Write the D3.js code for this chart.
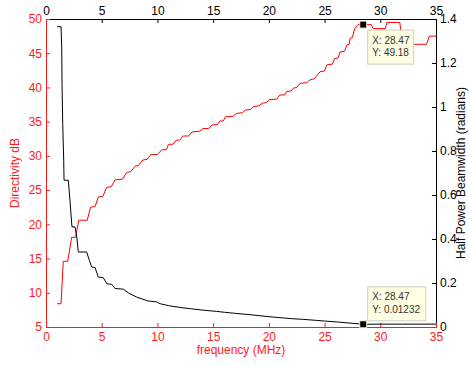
<!DOCTYPE html>
<html>
<head>
<meta charset="utf-8">
<script src="https://cdn.jsdelivr.net/npm/d3@7"></script>
<style>
    body { margin: 0; background: #fff; }
    #chart { width: 469px; height: 366px; }
    text { font-family: "Liberation Sans", Arial, sans-serif; }
</style>
</head>
<body>
<div id="chart"></div>
<script>
// directivity (dB) vs frequency at the step corners
const freqD = [1.0, 1.35, 1.55, 1.95, 2.3, 2.65, 2.95, 3.7, 4.0, 4.4, 4.7, 5.1, 5.45, 5.85, 6.2, 6.85, 7.25, 7.6,
    8.0, 8.3, 8.7, 9.1, 9.4, 10.0, 10.4, 10.8, 11.0, 11.4, 11.7, 12.0, 12.3, 12.8, 13.1, 13.8, 14.1, 14.6,
    14.9, 15.4, 15.6, 15.9, 16.1, 16.8, 17.1, 17.6, 17.9, 18.4, 18.6, 19.1, 19.4, 19.8, 20.0, 20.7, 21.0,
    21.4, 21.6, 22.0, 22.2, 22.5, 22.8, 23.4, 23.7, 24.1, 24.6, 25.0, 25.2, 25.7, 25.9, 26.2, 26.4, 26.8,
    27.0, 27.2, 27.3, 27.5, 27.7, 28.0, 28.47, 29.2, 29.35, 30.45, 30.6, 31.75, 32.0, 34.15, 34.4, 35.0];
const directivity = [8.4, 8.4, 14.6, 14.6, 18.1, 18.1, 20.6, 20.6, 22.5, 22.6, 24.0, 24.1, 25.4, 25.5, 26.5, 26.6, 27.6, 27.7,
    28.5, 28.6, 29.4, 29.5, 30.2, 30.2, 30.9, 30.9, 31.7, 31.7, 32.3, 32.3, 32.9, 32.9, 33.5, 33.6, 34.0, 34.0,
    34.5, 34.6, 35.1, 35.1, 35.7, 35.8, 36.2, 36.3, 36.7, 36.8, 37.2, 37.3, 37.7, 37.8, 38.2, 38.3, 38.9,
    38.9, 39.4, 39.5, 39.9, 40.0, 40.6, 40.7, 41.1, 41.3, 42.3, 42.4, 43.3, 43.4, 44.2, 44.3, 45.2, 45.3,
    46.2, 46.3, 47.2, 47.3, 48.6, 49.2, 49.18, 49.18, 48.6, 48.6, 49.5, 49.5, 46.3, 46.3, 47.5, 47.5];

// half power beamwidth (radians) vs frequency
const freqB = [1.0, 1.35, 1.41, 1.44, 1.5, 1.59, 1.62, 2.0, 2.15, 2.33, 2.6, 2.76, 2.9, 3.65, 3.89, 4.1, 4.4, 4.69,
    5.14, 5.45, 5.9, 6.19, 6.94, 7.39, 8.14, 9.18, 9.94, 10.23, 11.0, 12.3, 13.0, 14.0, 15.3, 16.0, 17.0,
    18.3, 20.0, 21.3, 22.0, 23.0, 24.3, 25.0, 26.1, 27.0, 28.47, 30.0, 32.0, 35.0];
const beamwidth = [1.365, 1.365, 1.274, 1.107, 0.925, 0.758, 0.667, 0.667, 0.576, 0.455, 0.455, 0.41, 0.341, 0.341,
    0.303, 0.273, 0.27, 0.227, 0.224, 0.197, 0.194, 0.175, 0.172, 0.155, 0.136, 0.118, 0.114, 0.106, 0.097,
    0.087, 0.083, 0.077, 0.071, 0.067, 0.062, 0.056, 0.047, 0.041, 0.038, 0.035, 0.030, 0.027, 0.023, 0.019,
    0.01232, 0.013, 0.013, 0.013];

// axis ticks
const freqTicks = [0, 5, 10, 15, 20, 25, 30, 35];
const dirTicks = [5, 10, 15, 20, 25, 30, 35, 40, 45, 50];
const bwTicks = [0, 0.2, 0.4, 0.6, 0.8, 1, 1.2, 1.4];

// data tips
const tipFreq = 28.47;
const tipDir = 49.18;
const tipBw = 0.01232;

class DualAxisVis {
    constructor(parentElement) {
        this.parentElement = parentElement;
        this.initVis();
    }

    initVis() {
        let vis = this;

        vis.red = '#ff1a1a';
        vis.margin = {top: 19, right: 33, bottom: 39, left: 46};
        vis.width = 469 - vis.margin.left - vis.margin.right;
        vis.height = 366 - vis.margin.top - vis.margin.bottom;

        vis.svg = d3.select("#" + vis.parentElement).append("svg")
            .attr("width", 469)
            .attr("height", 366)
            .append("g")
            .attr("transform", `translate(${vis.margin.left}, ${vis.margin.top})`);

        vis.svg.append("clipPath").attr("id", "clip")
            .append("rect")
            .attr("width", vis.width)
            .attr("height", vis.height);

        // scales
        vis.x = d3.scaleLinear().domain([0, 35]).range([0, vis.width]);
        vis.yL = d3.scaleLinear().domain([5, 50]).range([vis.height, 0]);
        vis.yR = d3.scaleLinear().domain([0, 1.4]).range([vis.height, 0]);

        // axes, ticks point inwards
        vis.xAxisBottom = d3.axisBottom(vis.x).tickValues(freqTicks).tickSizeInner(-4).tickSizeOuter(0).tickPadding(5);
        vis.xAxisTop = d3.axisTop(vis.x).tickValues(freqTicks).tickSizeInner(-4).tickSizeOuter(0).tickPadding(4);
        vis.yAxisLeft = d3.axisLeft(vis.yL).tickValues(dirTicks).tickSizeInner(-4).tickSizeOuter(0).tickPadding(4);
        vis.yAxisRight = d3.axisRight(vis.yR).tickValues(bwTicks).tickFormat(d3.format("~g"))
            .tickSizeInner(-4).tickSizeOuter(0).tickPadding(4);

        vis.wrangleData();
    }

    wrangleData() {
        let vis = this;
        vis.dirData = freqD.map((f, i) => ({f: f, v: directivity[i]}));
        vis.bwData = freqB.map((f, i) => ({f: f, v: beamwidth[i]}));
        vis.updateVis();
    }

    updateVis() {
        let vis = this;

        // top + right axes (black)
        let gTop = vis.svg.append("g").attr("class", "axis")
            .call(vis.xAxisTop);
        gTop.selectAll("path, line").attr("stroke", "#000");
        gTop.selectAll("text").attr("fill", "#000").style("font-size", "12px");

        let gRight = vis.svg.append("g").attr("class", "axis")
            .attr("transform", `translate(${vis.width},0)`)
            .call(vis.yAxisRight);
        gRight.selectAll("path, line").attr("stroke", "#000");
        gRight.selectAll("text").attr("fill", "#000").style("font-size", "12px");

        // bottom + left axes (red)
        let gBottom = vis.svg.append("g").attr("class", "axis")
            .attr("transform", `translate(0,${vis.height})`)
            .call(vis.xAxisBottom);
        gBottom.selectAll("path, line").attr("stroke", vis.red);
        gBottom.selectAll("text").attr("fill", vis.red).style("font-size", "12px");

        let gLeft = vis.svg.append("g").attr("class", "axis")
            .call(vis.yAxisLeft);
        gLeft.selectAll("path, line").attr("stroke", vis.red);
        gLeft.selectAll("text").attr("fill", vis.red).style("font-size", "12px");

        // axis titles
        vis.svg.append("text")
            .attr("x", vis.width / 2)
            .attr("y", vis.height + 27)
            .attr("text-anchor", "middle")
            .attr("fill", vis.red)
            .style("font-size", "12px")
            .text("frequency (MHz)");

        vis.svg.append("text")
            .attr("transform", `translate(-27,${vis.height / 2}) rotate(-90)`)
            .attr("text-anchor", "middle")
            .attr("fill", vis.red)
            .style("font-size", "12px")
            .text("Directivity dB");

        vis.svg.append("text")
            .attr("transform", `translate(${vis.width + 29},${vis.height / 2}) rotate(-90)`)
            .attr("text-anchor", "middle")
            .attr("fill", "#000")
            .style("font-size", "12px")
            .text("Half Power Beamwidth (radians)");

        // lines
        let lineL = d3.line().x(d => vis.x(d.f)).y(d => vis.yL(d.v));
        let lineR = d3.line().x(d => vis.x(d.f)).y(d => vis.yR(d.v));

        vis.svg.append("path")
            .datum(vis.dirData)
            .attr("clip-path", "url(#clip)")
            .attr("fill", "none")
            .attr("stroke", "#ff0000")
            .attr("stroke-width", 1)
            .attr("d", lineL);

        vis.svg.append("path")
            .datum(vis.bwData)
            .attr("clip-path", "url(#clip)")
            .attr("fill", "none")
            .attr("stroke", "#000")
            .attr("stroke-width", 1)
            .attr("d", lineR);

        // data tips
        vis.addTip(vis.x(tipFreq), vis.yL(tipDir), ["X: " + tipFreq, "Y: " + tipDir], 4, 5, 46);
        vis.addTip(vis.x(tipFreq), vis.yR(tipBw), ["X: " + tipFreq, "Y: " + tipBw], 4, -38, 58);
    }

    addTip(mx, my, lines, dx, dy, w) {
        let vis = this;
        let tip = vis.svg.append("g").attr("class", "tip");

        tip.append("rect")
            .attr("x", mx + dx + 0.5)
            .attr("y", my + dy + 0.5)
            .attr("width", w)
            .attr("height", 34)
            .attr("fill", "#ffffe4")
            .attr("stroke", "#cfcfbd");

        tip.selectAll("text")
            .data(lines)
            .enter()
            .append("text")
            .attr("x", mx + dx + 5)
            .attr("y", (d, i) => my + dy + 14 + i * 12.5)
            .attr("fill", "#333")
            .style("font-size", "10px")
            .text(d => d);

        tip.append("rect")
            .attr("x", mx - 3.5)
            .attr("y", my - 3.5)
            .attr("width", 7)
            .attr("height", 7)
            .attr("fill", "#000")
            .attr("stroke", "#f2f2cf")
            .attr("stroke-width", 1);
    }
}

new DualAxisVis("chart");
</script>
</body>
</html>
